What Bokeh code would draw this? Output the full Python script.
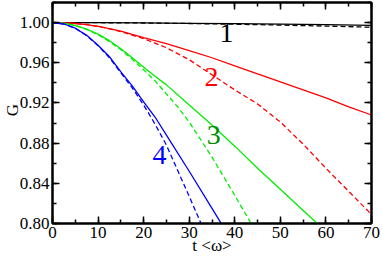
from bokeh.plotting import figure
from bokeh.models import (LinearAxis, SingleIntervalTicker, NumeralTickFormatter,
                          Range1d, ColumnDataSource, CustomJSTickFormatter, FixedTicker)
from bokeh.embed import file_html
from bokeh.resources import INLINE
from bokeh.core.properties import value

# ---- data ----
t_black = [0, 10, 20, 30, 40, 50, 60, 70]
g1_solid = [1.0, 0.9999, 0.9997, 0.9993, 0.9989, 0.9984, 0.9979, 0.9973]
g1_dash = [1.0, 0.9999, 0.9996, 0.9991, 0.9984, 0.9975, 0.9965, 0.9954]

t_red = [0, 2.5, 5, 7.5, 10, 12.5, 15, 20, 25, 30, 35, 40, 45, 50, 55, 60, 65, 70]
g2_solid = [1.0, 0.9998, 0.9991, 0.9979, 0.9962, 0.9941, 0.9915, 0.985, 0.979, 0.972,
            0.965, 0.957, 0.949, 0.941, 0.933, 0.925, 0.916, 0.908]
g2_dash = [1.0, 0.9998, 0.9991, 0.9979, 0.9961, 0.9938, 0.991, 0.984, 0.975, 0.963,
           0.948, 0.933, 0.919, 0.901, 0.879, 0.855, 0.832, 0.809]

t_green_solid = [0, 2.5, 5, 7.5, 10, 12.5, 15, 17.5, 20, 22.5, 25, 30, 35, 40, 45,
                 50, 55, 60]
g3_solid = [1.0, 0.9993, 0.9971, 0.9935, 0.9885, 0.982, 0.974, 0.965, 0.9555, 0.9465,
            0.938, 0.918, 0.898, 0.877, 0.855, 0.834, 0.813, 0.792]
t_green_dash = [0, 2.5, 5, 7.5, 10, 12.5, 15, 17.5, 20, 22.5, 25, 27.5, 30, 35, 40, 45]
g3_dash = [1.0, 0.9993, 0.997, 0.9933, 0.988, 0.981, 0.973, 0.9635, 0.953, 0.942,
           0.929, 0.916, 0.901, 0.866, 0.828, 0.789]

t_blue_solid = [0, 2.5, 5, 7.5, 10, 12.5, 15, 17.5, 20, 22.5, 25, 30, 35, 40]
g4_solid = [1.0, 0.9986, 0.9944, 0.9873, 0.9775, 0.966, 0.951, 0.937, 0.921, 0.906,
            0.888, 0.852, 0.815, 0.778]
t_blue_dash = [0, 2.5, 5, 7.5, 10, 12.5, 15, 17.5, 20, 22.5, 25, 30, 35]
g4_dash = [1.0, 0.9986, 0.9944, 0.987, 0.977, 0.965, 0.950, 0.935, 0.918, 0.899,
           0.878, 0.827, 0.775]

curve_labels = ["1", "2", "3", "4"]
label_t = [38.2, 34.9, 35.4, 23.5]
label_g = [0.9895, 0.9463, 0.888, 0.868]
label_colors = ["black", "#ff0000", "#008b00", "#0000ff"]

x_title = "t <ω>"
y_title = "G"
x_ticks_step = 10
y_ticks_step = 0.04

FONT = "Liberation Serif"

p = figure(width=382, height=257, output_backend="svg", toolbar_location=None,
           x_range=Range1d(0, 70), y_range=Range1d(0.80, 1.02),
           x_axis_location=None, y_axis_location=None,
           min_border_left=50, min_border_right=11, min_border_top=2,
           min_border_bottom=34)
p.outline_line_color = "black"
p.outline_line_width = 2
p.background_fill_color = "white"
p.border_fill_color = "white"
p.xgrid.visible = False
p.ygrid.visible = False


def style_axis(ax, show_labels):
    ax.axis_line_width = 2
    ax.axis_line_color = "black"
    ax.major_tick_in = 7
    ax.major_tick_out = 0
    ax.minor_tick_in = 4
    ax.minor_tick_out = 0
    ax.major_tick_line_width = 1.5
    ax.minor_tick_line_width = 1.5
    ax.major_label_text_font = FONT
    ax.major_label_text_color = "black"
    ax.major_label_text_font_size = "17px"
    if not show_labels:
        ax.formatter = CustomJSTickFormatter(code="return ''")
        ax.major_label_standoff = 0


def title_axis(ax, standoff):
    # an axis with no line or ticks that only carries the axis title
    ax.axis_line_color = None
    ax.major_tick_line_color = None
    ax.minor_tick_line_color = None
    ax.major_tick_in = 0
    ax.major_tick_out = 0
    ax.minor_tick_in = 0
    ax.minor_tick_out = 0
    ax.major_label_text_font = FONT
    ax.major_label_text_font_size = "17px"
    ax.major_label_text_color = "black"
    ax.major_label_standoff = standoff


xb = LinearAxis(ticker=SingleIntervalTicker(interval=x_ticks_step, num_minor_ticks=2))
style_axis(xb, True)
xb.major_label_standoff = 3
p.add_layout(xb, "below")
xtitle = LinearAxis(ticker=FixedTicker(ticks=[35], minor_ticks=[]),
                    formatter=CustomJSTickFormatter(code="return 't <ω>'"))
title_axis(xtitle, -5)
p.add_layout(xtitle, "below")

xt = LinearAxis(ticker=SingleIntervalTicker(interval=x_ticks_step, num_minor_ticks=2))
style_axis(xt, False)
p.add_layout(xt, "above")

yl = LinearAxis(ticker=SingleIntervalTicker(interval=y_ticks_step, num_minor_ticks=2),
                formatter=NumeralTickFormatter(format="0.00"))
style_axis(yl, True)
yl.major_label_standoff = 3
p.add_layout(yl, "left")
ytitle = LinearAxis(ticker=FixedTicker(ticks=[0.9128], minor_ticks=[]),
                    formatter=CustomJSTickFormatter(code="return 'G'"))
title_axis(ytitle, -6)
ytitle.major_label_orientation = "vertical"
p.add_layout(ytitle, "left")

yr = LinearAxis(ticker=SingleIntervalTicker(interval=y_ticks_step, num_minor_ticks=2))
style_axis(yr, False)
p.add_layout(yr, "right")

LW = 1.3
DASH = "5 3"
p.line(t_black, g1_solid, color="black", line_width=LW)
p.line(t_black, g1_dash, color="black", line_width=LW, line_dash=DASH)
p.line(t_red, g2_solid, color="#ff0000", line_width=LW)
p.line(t_red, g2_dash, color="#ff0000", line_width=LW, line_dash=DASH)
p.line(t_green_solid, g3_solid, color="#00ee00", line_width=LW)
p.line(t_green_dash, g3_dash, color="#00ee00", line_width=LW, line_dash=DASH)
p.line(t_blue_solid, g4_solid, color="#0000ff", line_width=LW)
p.line(t_blue_dash, g4_dash, color="#0000ff", line_width=LW, line_dash=DASH)

src = ColumnDataSource(dict(x=label_t, y=label_g, text=curve_labels, color=label_colors))
p.text(x="x", y="y", text="text", source=src, text_color="color",
       text_font=value(FONT), text_font_size="28px",
       text_align="center", text_baseline="middle")

open("out.html", "w").write(file_html(p, INLINE))
